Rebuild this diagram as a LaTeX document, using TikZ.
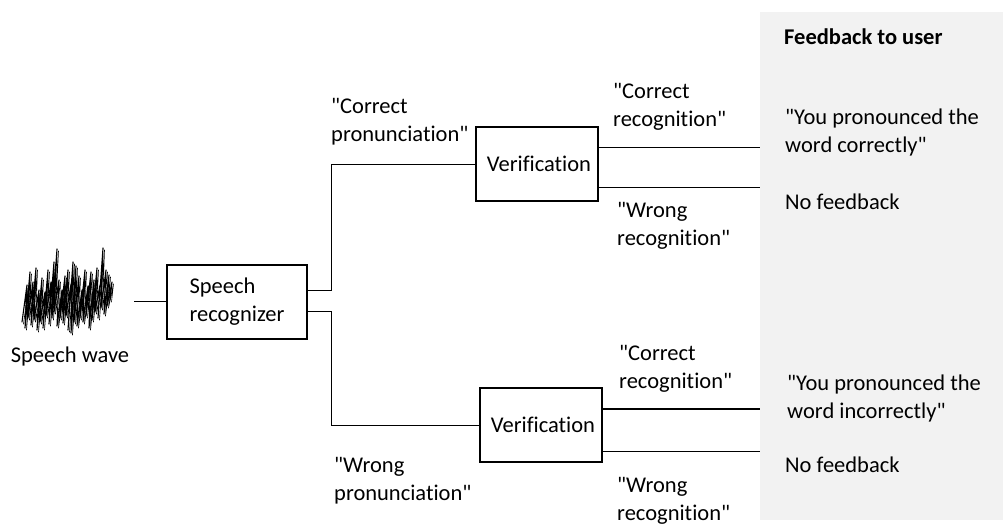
\documentclass[tikz,border=0pt]{standalone}
\usepackage{fontspec}
\setmainfont{Carlito}[Ligatures=NoCommon]
\newcommand{\qq}{\textquotedbl}
\begin{document}
\begin{tikzpicture}[x=1pt,y=-1pt,
  every node/.style={font=\fontsize{22.5}{28}\selectfont},
  block/.style={draw=black,line width=1.4pt,minimum height=74pt,inner sep=0pt},
  lbl/.style={anchor=west,align=left,inner sep=0pt},
  wire/.style={draw=black,line width=1pt},
  scribble/.style={line join=round,line cap=round}]
\useasboundingbox (0,0) rectangle (1003,523);
% feedback panel
\fill[fill={rgb,255:red,242;green,242;blue,242}] (760,12) rectangle (1003,520);
\node[lbl,font=\fontsize{22.5}{28}\selectfont\bfseries] (fbtitle) at (784,37) {Feedback to user};

% speech wave: slanted hand-drawn zigzag
\def\wavepath{(22,322)--(27,285)--(25,328)--(30,272)--(28,318)--(33,282)--(31,325)--(36,268)
  --(34,320)--(39,290)--(37,330)--(42,278)--(40,322)--(45,292)--(43,328)--(48,270)--(46,316)
  --(51,282)--(49,324)--(54,262)--(52,318)--(57,249)--(54,312)--(59,280)--(57,326)--(62,290)
  --(60,318)--(65,276)--(63,323)--(68,270)--(66,316)--(71,284)--(68,330)--(73,262)--(71,333)
  --(76,266)--(74,322)--(79,276)--(77,326)--(82,290)--(80,318)--(85,270)--(83,322)--(88,286)
  --(86,316)--(91,272)--(89,328)--(94,280)--(92,320)--(97,268)--(95,312)--(100,285)--(98,318)
  --(103,248)--(101,308)--(106,270)--(104,314)--(109,275)--(107,306)--(112,282)--(110,300)}
\draw[scribble,line width=1.1pt] \wavepath;
\draw[scribble,line width=0.6pt,xshift=1.5pt,yshift=-2pt] \wavepath;
\coordinate (wave) at (134,301);
\node[inner sep=0pt] (wavelbl) at (70,356) {Speech wave};

% blocks
\node[block,minimum width=140pt,text width=95pt,align=left] (sr) at (237,302) {Speech\\recognizer};
\node[block,minimum width=122pt,align=center] (v1) at (537,164) {\hspace*{4pt}Verification};
\node[block,minimum width=122pt,align=center] (v2) at (541,425) {\hspace*{4pt}Verification};

% connectors
\coordinate (ja) at (331,290);
\coordinate (jb) at (331,311);
\draw[wire] (wave) -- (wave -| sr.west);
\draw[wire] (sr.east |- ja) -- (ja) |- (v1.west);
\draw[wire] (sr.east |- jb) -- (jb) |- (v2.west);

\coordinate (o1) at (760,147);
\coordinate (o2) at (760,187);
\coordinate (o3) at (760,409);
\coordinate (o4) at (760,451);
\draw[wire] (v1.east |- o1) -- (o1);
\draw[wire] (v1.east |- o2) -- (o2);
\draw[wire,line width=1.5pt] (v2.east |- o3) -- (o3);
\draw[wire] (v2.east |- o4) -- (o4);

% labels
\node[lbl] (cp) at (331,122) {\qq Correct\\pronunciation\qq};
\node[lbl] (wp) at (334,481) {\qq Wrong\\pronunciation\qq};
\node[lbl] (cr1) at (613,107) {\qq Correct\\recognition\qq};
\node[lbl] (wr1) at (617,226) {\qq Wrong\\recognition\qq};
\node[lbl] (cr2) at (619,369) {\qq Correct\\recognition\qq};
\node[lbl] (wr2) at (617,501) {\qq Wrong\\recognition\qq};
\node[lbl] (fb1) at (785,132) {\qq You pronounced the\\word correctly\qq};
\node[lbl] (nf1) at (785,202) {No feedback};
\node[lbl] (fb2) at (787,398) {\qq You pronounced the\\word incorrectly\qq};
\node[lbl] (nf2) at (785,465) {No feedback};
\end{tikzpicture}
\end{document}
